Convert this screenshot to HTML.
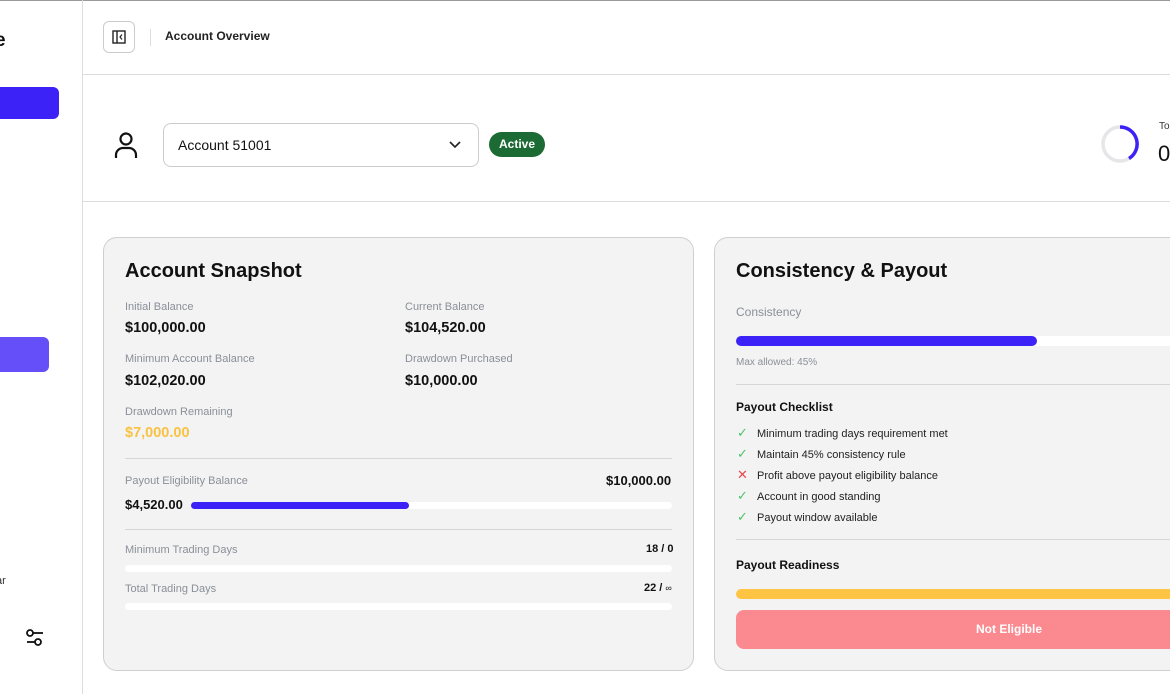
<!DOCTYPE html>
<html><head><meta charset="utf-8"><style>
*{box-sizing:border-box;margin:0;padding:0}
body{width:1170px;height:694px;overflow:hidden;background:#fff;font-family:"Liberation Sans",sans-serif;color:#111;position:relative}
.a{position:absolute}
.lbl{font-size:11px;color:#8a8f98}
.val{font-size:14.5px;font-weight:bold;color:#111}
.card{position:absolute;background:#f3f3f3;border:1px solid #cfcfcf;border-radius:14px}
.bar{position:absolute;height:7px;border-radius:4px;background:#fff}
.chk{font-size:11px;color:#222}
.ic{position:absolute;font-size:13px}
</style></head><body>
<div class="a" style="left:0;top:0;width:1170px;height:1px;background:#999"></div>
<!-- sidebar -->
<div class="a" style="left:82px;top:0;width:1px;height:694px;background:#ddd"></div>
<div class="a" style="left:-5px;top:30px;font-size:19px;font-weight:bold">e</div>
<div class="a" style="left:-20px;top:87px;width:79px;height:32px;border-radius:6px;background:#3d22f7"></div>
<div class="a" style="left:-20px;top:337px;width:69px;height:35px;border-radius:6px;background:#644ff8"></div>
<div class="a" style="left:-4px;top:575px;font-size:11px;color:#333">ar</div>
<svg class="a" style="left:24px;top:628px" width="22" height="20" viewBox="0 0 22 20"><circle cx="6" cy="5" r="3" fill="none" stroke="#111" stroke-width="1.8"/><line x1="9" y1="5" x2="19" y2="5" stroke="#111" stroke-width="1.8"/><circle cx="14" cy="14" r="3" fill="none" stroke="#111" stroke-width="1.8"/><line x1="3" y1="14" x2="11" y2="14" stroke="#111" stroke-width="1.8"/></svg>
<!-- header -->
<div class="a" style="left:103px;top:21px;width:32px;height:32px;border:1px solid #ccc;border-radius:6px"></div>
<svg class="a" style="left:112px;top:30px" width="14" height="14" viewBox="0 0 14 14"><rect x="1" y="1" width="12" height="12" fill="none" stroke="#222" stroke-width="1.4"/><line x1="5" y1="1" x2="5" y2="13" stroke="#222" stroke-width="1.4"/><polyline points="10,4.5 8,7 10,9.5" fill="none" stroke="#222" stroke-width="1.2"/></svg>
<div class="a" style="left:150px;top:29px;width:1px;height:17px;background:#ddd"></div>
<div class="a" style="left:165px;top:29px;font-size:12px;font-weight:bold;color:#222">Account Overview</div>
<div class="a" style="left:83px;top:74px;width:1087px;height:1px;background:#ddd"></div>
<svg class="a" style="left:113px;top:130px" width="26" height="30" viewBox="0 0 26 30"><circle cx="13" cy="9" r="5.5" fill="none" stroke="#111" stroke-width="2.2"/><path d="M3 28 V25 a7 7 0 0 1 7 -7 h6 a7 7 0 0 1 7 7 V28" fill="none" stroke="#111" stroke-width="2.2"/></svg>
<div class="a" style="left:163px;top:123px;width:316px;height:44px;border:1px solid #ccc;border-radius:8px"></div>
<div class="a" style="left:178px;top:137px;font-size:14px;color:#111">Account 51001</div>
<svg class="a" style="left:449px;top:139px" width="12" height="10" viewBox="0 0 12 10"><polyline points="1,3 6,8 11,3" fill="none" stroke="#222" stroke-width="1.6"/></svg>
<div class="a" style="left:489px;top:132px;width:56px;height:25px;border-radius:13px;background:#1d6b34;color:#fff;font-size:12px;font-weight:bold;text-align:center;line-height:25px">Active</div>
<svg class="a" style="left:1100px;top:124px" width="40" height="40" viewBox="0 0 40 40"><circle cx="20" cy="20" r="17" fill="none" stroke="#e6e6e8" stroke-width="3.5"/><path d="M20 3 A17 17 0 0 1 29 34.5" fill="none" stroke="#3d22f7" stroke-width="3.5"/></svg>
<div class="a" style="left:1159px;top:121px;font-size:10px;color:#333">To</div>
<div class="a" style="left:1158px;top:141px;font-size:22px;color:#111">0</div>
<div class="a" style="left:83px;top:201px;width:1087px;height:1px;background:#ddd"></div>
<!-- card1 -->
<div class="card" style="left:103px;top:237px;width:591px;height:434px"></div>
<div class="a" style="left:125px;top:260px;font-size:20px;font-weight:bold">Account Snapshot</div>
<div class="a lbl" style="left:125px;top:301px">Initial Balance</div>
<div class="a val" style="left:125px;top:320px">$100,000.00</div>
<div class="a lbl" style="left:405px;top:301px">Current Balance</div>
<div class="a val" style="left:405px;top:320px">$104,520.00</div>
<div class="a lbl" style="left:125px;top:353px">Minimum Account Balance</div>
<div class="a val" style="left:125px;top:373px">$102,020.00</div>
<div class="a lbl" style="left:405px;top:353px">Drawdown Purchased</div>
<div class="a val" style="left:405px;top:373px">$10,000.00</div>
<div class="a lbl" style="left:125px;top:406px">Drawdown Remaining</div>
<div class="a val" style="left:125px;top:425px;color:#f8c242">$7,000.00</div>
<div class="a" style="left:125px;top:458px;width:547px;height:1px;background:#d6d6d6"></div>
<div class="a lbl" style="left:125px;top:475px">Payout Eligibility Balance</div>
<div class="a" style="left:606px;top:473px;font-size:13px;font-weight:bold">$10,000.00</div>
<div class="a" style="left:125px;top:497px;font-size:13px;font-weight:bold">$4,520.00</div>
<div class="bar" style="left:191px;top:502px;width:481px"></div>
<div class="bar" style="left:191px;top:502px;width:218px;background:#3d22f7"></div>
<div class="a" style="left:125px;top:529px;width:547px;height:1px;background:#d6d6d6"></div>
<div class="a lbl" style="left:125px;top:544px">Minimum Trading Days</div>
<div class="a" style="left:646px;top:543px;font-size:11px;font-weight:bold">18 / 0</div>
<div class="bar" style="left:125px;top:565px;width:547px"></div>
<div class="a lbl" style="left:125px;top:583px">Total Trading Days</div>
<div class="a" style="left:644px;top:582px;font-size:11px;font-weight:bold">22 / <span style="font-weight:normal;font-size:9px">∞</span></div>
<div class="bar" style="left:125px;top:603px;width:547px"></div>
<!-- card2 -->
<div class="card" style="left:714px;top:237px;width:600px;height:434px"></div>
<div class="a" style="left:736px;top:260px;font-size:20px;font-weight:bold">Consistency &amp; Payout</div>
<div class="a" style="left:736px;top:305px;font-size:12px;color:#8a8f98">Consistency</div>
<div class="a" style="left:736px;top:336px;width:450px;height:10px;border-radius:5px;background:#fff"></div>
<div class="a" style="left:736px;top:336px;width:301px;height:10px;border-radius:5px;background:#3d22f7"></div>
<div class="a" style="left:736px;top:357px;font-size:10px;color:#8a8f98">Max allowed: 45%</div>
<div class="a" style="left:736px;top:384px;width:450px;height:1px;background:#d6d6d6"></div>
<div class="a" style="left:736px;top:400px;font-size:12px;font-weight:bold">Payout Checklist</div>
<div class="ic" style="left:737px;top:425px;color:#4cc46a">✓</div><div class="a chk" style="left:757px;top:428px">Minimum trading days requirement met</div>
<div class="ic" style="left:737px;top:446px;color:#4cc46a">✓</div><div class="a chk" style="left:757px;top:449px">Maintain 45% consistency rule</div>
<div class="ic" style="left:737px;top:467px;color:#e9474d">✕</div><div class="a chk" style="left:757px;top:470px">Profit above payout eligibility balance</div>
<div class="ic" style="left:737px;top:488px;color:#4cc46a">✓</div><div class="a chk" style="left:757px;top:491px">Account in good standing</div>
<div class="ic" style="left:737px;top:509px;color:#4cc46a">✓</div><div class="a chk" style="left:757px;top:512px">Payout window available</div>
<div class="a" style="left:736px;top:539px;width:450px;height:1px;background:#d6d6d6"></div>
<div class="a" style="left:736px;top:558px;font-size:12px;font-weight:bold">Payout Readiness</div>
<div class="a" style="left:736px;top:589px;width:560px;height:10px;border-radius:5px;background:#ffc444"></div>
<div class="a" style="left:736px;top:610px;width:546px;height:39px;border-radius:8px;background:#fb8a90;color:#fff;font-size:12px;font-weight:bold;text-align:center;line-height:39px">Not Eligible</div>
</body></html>
